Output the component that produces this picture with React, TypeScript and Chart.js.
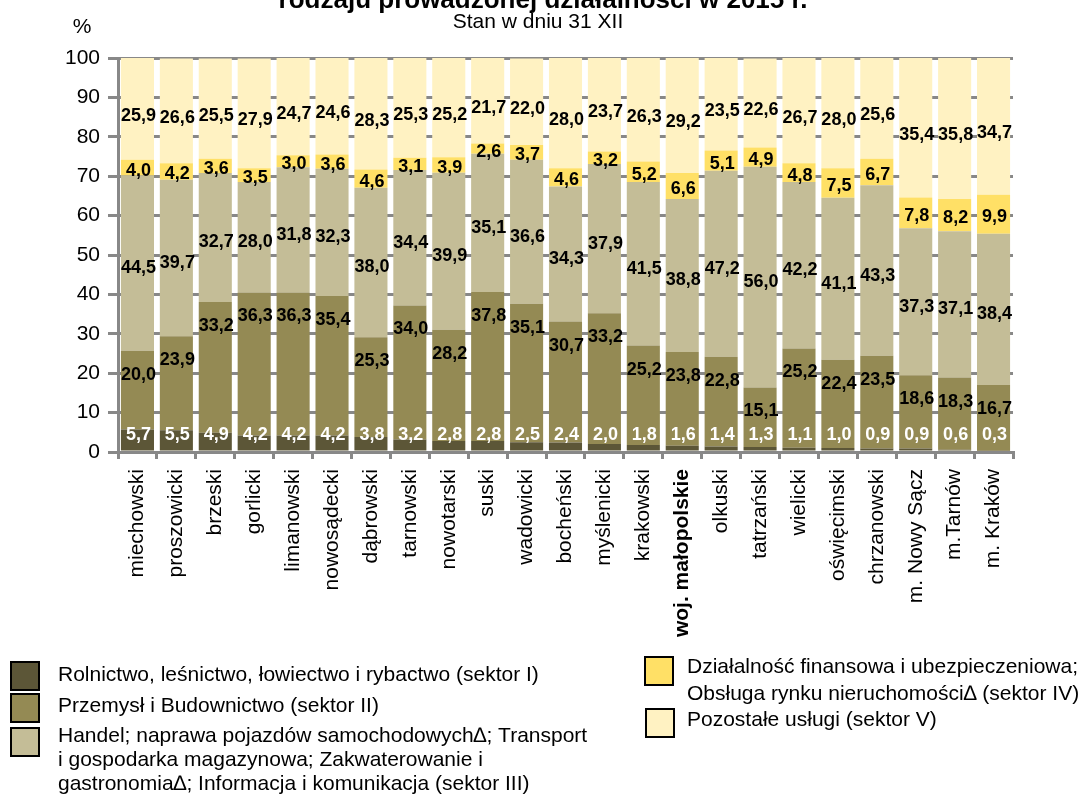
import React, { useEffect, useRef } from "react";
import { Chart, registerables } from "chart.js";

Chart.register(...registerables);

const FONT = '"Liberation Sans", Arial, sans-serif';

const TITLE = "rodzaju prowadzonej działalności w 2015 r.";
const SUBTITLE = "Stan w dniu 31 XII";
const Y_UNIT = "%";

const categories = [
  "miechowski",
  "proszowicki",
  "brzeski",
  "gorlicki",
  "limanowski",
  "nowosądecki",
  "dąbrowski",
  "tarnowski",
  "nowotarski",
  "suski",
  "wadowicki",
  "bocheński",
  "myślenicki",
  "krakowski",
  "woj. małopolskie",
  "olkuski",
  "tatrzański",
  "wielicki",
  "oświęcimski",
  "chrzanowski",
  "m. Nowy Sącz",
  "m.Tarnów",
  "m. Kraków",
];
const boldCategory = "woj. małopolskie";

const sektorI = [5.7, 5.5, 4.9, 4.2, 4.2, 4.2, 3.8, 3.2, 2.8, 2.8, 2.5, 2.4, 2.0, 1.8, 1.6, 1.4, 1.3, 1.1, 1.0, 0.9, 0.9, 0.6, 0.3];
const sektorII = [20.0, 23.9, 33.2, 36.3, 36.3, 35.4, 25.3, 34.0, 28.2, 37.8, 35.1, 30.7, 33.2, 25.2, 23.8, 22.8, 15.1, 25.2, 22.4, 23.5, 18.6, 18.3, 16.7];
const sektorIII = [44.5, 39.7, 32.7, 28.0, 31.8, 32.3, 38.0, 34.4, 39.9, 35.1, 36.6, 34.3, 37.9, 41.5, 38.8, 47.2, 56.0, 42.2, 41.1, 43.3, 37.3, 37.1, 38.4];
const sektorIV = [4.0, 4.2, 3.6, 3.5, 3.0, 3.6, 4.6, 3.1, 3.9, 2.6, 3.7, 4.6, 3.2, 5.2, 6.6, 5.1, 4.9, 4.8, 7.5, 6.7, 7.8, 8.2, 9.9];
const sektorV = [25.9, 26.6, 25.5, 27.9, 24.7, 24.6, 28.3, 25.3, 25.2, 21.7, 22.0, 28.0, 23.7, 26.3, 29.2, 23.5, 22.6, 26.7, 28.0, 25.6, 35.4, 35.8, 34.7];

const yTicks = [0, 10, 20, 30, 40, 50, 60, 70, 80, 90, 100];

const seriesNames = [
  "Rolnictwo, leśnictwo, łowiectwo i rybactwo (sektor I)",
  "Przemysł i Budownictwo (sektor II)",
  "Handel; naprawa pojazdów samochodowych∆; Transport i gospodarka magazynowa; Zakwaterowanie i gastronomia∆; Informacja i komunikacja (sektor III)",
  "Działalność finansowa i ubezpieczeniowa; Obsługa rynku nieruchomości∆ (sektor IV)",
  "Pozostałe usługi (sektor V)",
];
const legendLinesI = ["Rolnictwo, leśnictwo, łowiectwo i rybactwo (sektor I)"];
const legendLinesII = ["Przemysł i Budownictwo (sektor II)"];
const legendLinesIII = [
  "Handel; naprawa pojazdów samochodowych∆; Transport",
  "i gospodarka magazynowa; Zakwaterowanie i",
  "gastronomia∆; Informacja i komunikacja (sektor III)",
];
const legendLinesIV = [
  "Działalność finansowa i ubezpieczeniowa;",
  "Obsługa rynku nieruchomości∆ (sektor IV)",
];
const legendLinesV = ["Pozostałe usługi (sektor V)"];

const colors = ["#5C5637", "#948A54", "#C4BD97", "#FFE066", "#FFF2C2"];
const GRID = "#888888";

const fmt = (v: number) => v.toFixed(1).replace(".", ",");

const segLabels = {
  id: "segLabels",
  afterDatasetsDraw(chart: any) {
    const ctx = chart.ctx;
    ctx.save();
    ctx.font = `bold 18px ${FONT}`;
    ctx.textAlign = "center";
    ctx.textBaseline = "middle";
    chart.data.datasets.forEach((ds: any, di: number) => {
      const meta = chart.getDatasetMeta(di);
      meta.data.forEach((el: any, i: number) => {
        const v = ds.data[i];
        const p = el.getProps(["x", "y", "base"], true);
        const mid = (p.y + p.base) / 2;
        let ty = mid;
        if (di === 0) ty = p.base - 15;
        else if (di === 1) ty = p.y + 24;
        else if (di === 2) ty = mid + 5;
        else if (di === 3) ty = mid + 3;
        else ty = mid + 7;
        ctx.fillStyle = di === 0 ? "#ffffff" : "#000000";
        ctx.fillText(fmt(v), p.x + 1, ty);
      });
    });
    ctx.restore();
  },
};

const decorations = {
  id: "decorations",
  afterDraw(chart: any) {
    const ctx = chart.ctx;
    ctx.save();
    ctx.fillStyle = "#000";
    ctx.textAlign = "center";
    ctx.textBaseline = "alphabetic";
    ctx.font = `bold 26px ${FONT}`;
    ctx.fillText(TITLE, 543, 8);
    ctx.textBaseline = "middle";
    ctx.font = `21px ${FONT}`;
    ctx.fillText(SUBTITLE, 538, 22);
    ctx.fillText(Y_UNIT, 82, 27);

    const square = (x: number, y: number, c: string) => {
      ctx.fillStyle = c;
      ctx.fillRect(x, y, 28, 28);
      ctx.strokeStyle = "#000";
      ctx.lineWidth = 2;
      ctx.strokeRect(x, y, 28, 28);
    };
    const lines = (x: number, ys: number[], arr: string[]) => {
      ctx.fillStyle = "#000";
      ctx.textAlign = "left";
      ctx.textBaseline = "middle";
      ctx.font = `21px ${FONT}`;
      arr.forEach((t, k) => ctx.fillText(t, x, ys[k]));
    };
    square(11, 662, colors[0]);
    lines(58, [675], legendLinesI);
    square(11, 694, colors[1]);
    lines(58, [706], legendLinesII);
    square(11, 728, colors[2]);
    lines(58, [736, 760, 784], legendLinesIII);
    square(645, 657, colors[3]);
    lines(687, [667, 694], legendLinesIV);
    square(646, 709, colors[4]);
    lines(687, [720], legendLinesV);
    ctx.restore();
  },
};

export default function App() {
  const ref = useRef<HTMLCanvasElement | null>(null);
  useEffect(() => {
    if (!ref.current) return;
    const series = [sektorI, sektorII, sektorIII, sektorIV, sektorV];
    const chart = new Chart(ref.current, {
      type: "bar",
      data: {
        labels: categories,
        datasets: series.map((d, i) => ({
          label: seriesNames[i],
          data: d,
          backgroundColor: colors[i],
          borderWidth: 0,
          barPercentage: 0.85,
          categoryPercentage: 1,
        })),
      },
      plugins: [segLabels, decorations],
      options: {
        responsive: false,
        animation: false,
        devicePixelRatio: 1,
        layout: { padding: { top: 58, right: 75, left: 0, bottom: 0 } },
        plugins: {
          legend: { display: false },
          title: { display: false },
          tooltip: { enabled: false },
        },
        scales: {
          x: {
            stacked: true,
            grid: {
              offset: true,
              drawOnChartArea: false,
              drawTicks: true,
              tickLength: 7,
              color: GRID,
              lineWidth: 3,
            },
            border: { display: true, color: GRID, width: 3 },
            ticks: {
              autoSkip: false,
              minRotation: 90,
              maxRotation: 90,
              padding: 10,
              color: "#000",
              font: (c: any) => ({
                family: FONT,
                size: 21,
                weight: categories[c.index] === boldCategory ? "bold" : "normal",
              }),
            },
            afterFit: (s: any) => {
              s.height = 342;
            },
          },
          y: {
            stacked: true,
            min: 0,
            max: 100,
            afterBuildTicks: (s: any) => {
              s.ticks = yTicks.map((v) => ({ value: v }));
            },
            grid: {
              color: GRID,
              lineWidth: 3,
              tickLength: 10,
            },
            border: { display: true, color: GRID, width: 3 },
            ticks: {
              padding: 8,
              color: "#000",
              font: { family: FONT, size: 21 },
            },
            afterFit: (s: any) => {
              s.width = 118;
            },
          },
        },
      },
    });
    return () => chart.destroy();
  }, []);
  return (
    <div style={{ position: "absolute", left: 0, top: 0, width: 1088, height: 794, background: "#fff" }}>
      <canvas ref={ref} width={1088} height={794} />
    </div>
  );
}
